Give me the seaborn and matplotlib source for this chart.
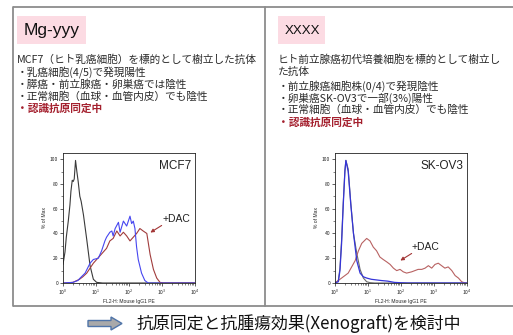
import numpy as np
import pandas as pd
import matplotlib
matplotlib.use("Agg")
import matplotlib.pyplot as plt
import seaborn as sns
from matplotlib.patches import Rectangle, Polygon
from matplotlib.ticker import LogLocator, LogFormatterMathtext, MultipleLocator

# ---- slide text ----
left_title = "Mg-yyy"
left_lines = ["MCF7（ヒト乳癌細胞）を標的として樹立した抗体",
              "・乳癌細胞(4/5)で発現陽性",
              "・膵癌・前立腺癌・卵巣癌では陰性",
              "・正常細胞（血球・血管内皮）でも陰性"]
left_red = "・認識抗原同定中"

right_title = "XXXX"
right_lines = ["ヒト前立腺癌初代培養細胞を標的として樹立し",
               "た抗体",
               "・前立腺癌細胞株(0/4)で発現陰性",
               "・卵巣癌SK-OV3で一部(3%)陽性",
               "・正常細胞（血球・血管内皮）でも陰性"]
right_red = "・認識抗原同定中"

footer = "抗原同定と抗腫瘍効果(Xenograft)を検討中"

# ---- flow cytometry histograms (log10 fluorescence, % of max) ----
mcf7_ctrl_log = [0.0, 0.06, 0.1, 0.16, 0.21, 0.24, 0.28, 0.31, 0.34, 0.38, 0.42, 0.46,
                 0.51, 0.55, 0.62, 0.72, 0.82, 0.92, 1.02, 1.2, 2.0, 4.0]
mcf7_ctrl_pct = [15, 25, 37, 50, 63, 74, 83, 82, 84, 99, 90, 82,
                 70, 66, 55, 35, 14, 3, 0.5, 0, 0, 0]

mcf7_ab_log = [0.0, 0.3, 0.45, 0.52, 0.67, 0.82, 0.92, 1.07, 1.17, 1.27, 1.32, 1.42,
               1.48, 1.52, 1.58, 1.68, 1.73, 1.83, 1.93, 2.03, 2.08, 2.13, 2.18, 2.23,
               2.28, 2.38, 2.48, 2.58, 3.0, 4.0]
mcf7_ab_pct = [0, 0.5, 2, 4, 8, 16, 19, 20, 26, 34, 37, 41,
               42, 38, 44, 49, 41, 50, 46, 54, 48, 50, 44, 29,
               19, 8, 2, 0, 0, 0]

mcf7_dac_log = [0.0, 0.3, 0.5, 0.6, 0.72, 0.92, 1.02, 1.12, 1.22, 1.32, 1.42, 1.52,
                1.63, 1.73, 1.83, 1.93, 2.03, 2.13, 2.23, 2.33, 2.43, 2.54, 2.64, 2.74,
                2.84, 2.94, 3.04, 4.0]
mcf7_dac_pct = [0, 0.5, 3, 5, 8, 16, 19, 22, 25, 28, 34, 36,
                42, 38, 41, 38, 34, 37, 40, 44, 42, 40, 23, 11,
                4, 0.5, 0, 0]

skov3_ctrl_log = [0.0, 0.1, 0.15, 0.2, 0.25, 0.3, 0.33, 0.4, 0.48, 0.56, 0.66, 0.76,
                  0.86, 0.96, 1.06, 1.2, 4.0]
skov3_ctrl_pct = [0, 2, 12, 35, 65, 91, 99, 92, 64, 40, 24, 11,
                  4, 1, 0.3, 0, 0]

skov3_ab_log = [0.0, 0.1, 0.15, 0.2, 0.25, 0.3, 0.33, 0.4, 0.48, 0.56, 0.66, 0.76,
                0.86, 0.96, 1.1, 1.25, 1.4, 1.6, 1.8, 2.0, 2.2, 4.0]
skov3_ab_pct = [0, 1, 10, 32, 63, 90, 99, 90, 63, 40, 18, 8,
                5, 4, 3, 2.5, 2, 1.5, 0.5, 0.2, 0, 0]

skov3_dac_log = [0.0, 0.2, 0.4, 0.61, 0.71, 0.81, 0.96, 1.06, 1.16, 1.26, 1.36, 1.46,
                 1.57, 1.67, 1.77, 1.87, 1.97, 2.07, 2.17, 2.32, 2.42, 2.52, 2.63, 2.73,
                 2.83, 2.93, 3.03, 3.13, 3.23, 3.33, 3.43, 3.54, 3.64, 3.74, 3.84, 3.94, 4.0]
skov3_dac_pct = [0, 4, 8, 18, 26, 32, 36, 34, 29, 26, 21, 19,
                 17, 15, 12, 10, 11, 9, 8, 9, 10, 11, 11, 12,
                 14, 12, 15, 16, 14, 12, 13, 10, 6, 4, 1, 0, 0]

sns.set_theme(style="ticks")
plt.rcParams["font.family"] = ["Noto Sans CJK JP", "DejaVu Sans"]
JP = ["Noto Sans CJK JP", "DejaVu Sans"]
LAT = ["Liberation Sans", "DejaVu Sans"]

W, H = 513, 335
fig = plt.figure(figsize=(W / 100, H / 100), dpi=100)
fig.patch.set_facecolor("white")

# background canvas in pixel units
bg = fig.add_axes([0, 0, 1, 1])
bg.set_xlim(0, W)
bg.set_ylim(H, 0)
bg.axis("off")

frame_col = "#8c8c8c"
bg.plot([13, W + 2], [7, 7], color=frame_col, lw=1.3, solid_capstyle="butt")
bg.plot([13, W + 2], [306, 306], color=frame_col, lw=1.3, solid_capstyle="butt")
bg.plot([13, 13], [7, 306], color=frame_col, lw=1.3)
bg.plot([265, 265], [7, 306], color=frame_col, lw=1.3)

pink = "#fcdbe3"
bg.add_patch(Rectangle((17, 16), 69, 28, facecolor=pink, edgecolor="none"))
bg.add_patch(Rectangle((278, 16), 47, 28, facecolor=pink, edgecolor="none"))
bg.text(24, 31, left_title, fontsize=12.5, family=LAT, va="center", ha="left", color="#111111")
bg.text(285, 31, right_title, fontsize=9.5, family=LAT, va="center", ha="left", color="#111111")

fs = 7.7
txt_col = "#2a2a2a"
red = "#a4202e"
for y, t in zip([60, 72.5, 85, 97], left_lines):
    bg.text(17, y, t, fontsize=fs, family=JP, va="center", ha="left", color=txt_col)
bg.text(17, 109, left_red, fontsize=fs, family=JP, va="center", ha="left",
        color=red, fontweight="bold")
for y, t in zip([60, 72, 86, 98, 110], right_lines):
    bg.text(278, y, t, fontsize=fs, family=JP, va="center", ha="left", color=txt_col)
bg.text(278, 122.5, right_red, fontsize=fs, family=JP, va="center", ha="left",
        color=red, fontweight="bold")

# footer arrow and caption
arrow = Polygon([(88, 320.5), (111, 320.5), (111, 317), (122, 323.5),
                 (111, 330), (111, 326.5), (88, 326.5)], closed=True,
                facecolor="#a9a9a9", edgecolor="#4f74a8", lw=1.0)
bg.add_patch(arrow)
bg.text(137, 323.5, footer, fontsize=12.2, family=JP, va="center", ha="left", color="#111111")


def histo(rect, series, label):
    ax = fig.add_axes(rect)
    for logx, pct, col, lw in series:
        df = pd.DataFrame({"fl": 10 ** np.asarray(logx, dtype=float), "pct": pct})
        sns.lineplot(data=df, x="fl", y="pct", ax=ax, color=col, lw=lw,
                     estimator=None, sort=False, legend=False)
    ax.set_xscale("log")
    ax.set_xlim(1, 1e4)
    ax.set_ylim(0, 105)
    ax.xaxis.set_major_locator(LogLocator(base=10, numticks=6))
    ax.xaxis.set_minor_locator(LogLocator(base=10, subs=np.arange(2, 10), numticks=12))
    ax.xaxis.set_major_formatter(LogFormatterMathtext())
    ax.yaxis.set_major_locator(MultipleLocator(20))
    ax.yaxis.set_minor_locator(MultipleLocator(10))
    ax.tick_params(axis="both", which="major", labelsize=3.6, length=2, width=0.5,
                   pad=1.5, colors="#222222")
    ax.tick_params(axis="both", which="minor", length=1.2, width=0.4)
    for s in ax.spines.values():
        s.set_linewidth(0.6)
        s.set_color("#222222")
    ax.set_xlabel("FL2-H: Mouse IgG1 PE", fontsize=3.6, family=LAT, labelpad=1)
    ax.set_ylabel("% of Max", fontsize=3.6, family=LAT, labelpad=2)
    ax.text(0.97, 0.9, label, transform=ax.transAxes, ha="right", va="center",
            fontsize=8.5, family=LAT, color="#222222")
    return ax


ax1 = histo([63 / W, 1 - 283 / H, 132 / W, 130 / H],
            [(mcf7_ctrl_log, mcf7_ctrl_pct, "#3a3a3a", 0.8),
             (mcf7_dac_log, mcf7_dac_pct, "#a13c3c", 0.8),
             (mcf7_ab_log, mcf7_ab_pct, "#4646f0", 0.8)], "MCF7")
ax2 = histo([335 / W, 1 - 283 / H, 132 / W, 130 / H],
            [(skov3_ctrl_log, skov3_ctrl_pct, "#6a6a6a", 0.8),
             (skov3_dac_log, skov3_dac_pct, "#b86262", 0.8),
             (skov3_ab_log, skov3_ab_pct, "#3535d8", 0.9)], "SK-OV3")

# overlay for the "+DAC" callouts
ov = fig.add_axes([0, 0, 1, 1])
ov.set_xlim(0, W)
ov.set_ylim(H, 0)
ov.axis("off")
ov.patch.set_alpha(0)
dac_col = "#a33636"
ov.text(163, 219, "+DAC", fontsize=7.5, family=LAT, ha="left", va="center", color="#222222")
ov.annotate("", xy=(148, 234), xytext=(164, 224),
            arrowprops=dict(arrowstyle="-|>", color=dac_col, lw=0.8, mutation_scale=5))
ov.text(412, 247, "+DAC", fontsize=7.5, family=LAT, ha="left", va="center", color="#222222")
ov.annotate("", xy=(398, 262), xytext=(414, 252),
            arrowprops=dict(arrowstyle="-|>", color=dac_col, lw=0.8, mutation_scale=5))

fig.savefig("out.png", dpi=100)
